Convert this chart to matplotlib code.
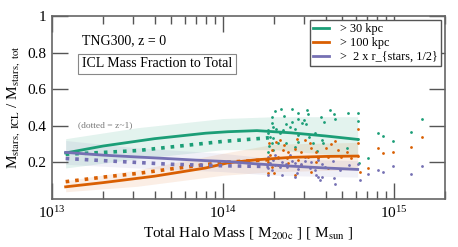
import numpy as np
import matplotlib
matplotlib.use('Agg')
import matplotlib.pyplot as plt
from matplotlib.ticker import FixedLocator

plt.rcParams['font.family'] = ['Liberation Serif', 'DejaVu Serif']
plt.rcParams['mathtext.fontset'] = 'stix'

# colours (Dark2)
cGreen, cOrange, cPurple = '#1b9e77', '#d95f02', '#7570b3'

# median lines, log10 halo mass
logM_z0 = [13.08, 13.3, 13.6, 13.9, 14.03, 14.2, 14.4, 14.6, 14.79]
green_z0 = [0.252, 0.29, 0.33, 0.36, 0.368, 0.374, 0.362, 0.345, 0.326]
orange_z0 = [0.067, 0.09, 0.125, 0.17, 0.198, 0.215, 0.228, 0.233, 0.235]
purple_z0 = [0.255, 0.24, 0.225, 0.21, 0.205, 0.192, 0.18, 0.17, 0.162]

logM_z1 = [13.08, 13.3, 13.5, 13.7, 14.0, 14.27]
green_z1 = [0.245, 0.255, 0.265, 0.285, 0.315, 0.335]
orange_z1 = [0.095, 0.12, 0.14, 0.165, 0.2, 0.215]
purple_z1 = [0.222, 0.21, 0.2, 0.19, 0.182, 0.178]

# shaded scatter around the z=0 lines
logM_band = [13.08, 13.5, 14.0, 14.3, 14.79]
green_lo = [0.17, 0.22, 0.27, 0.27, 0.23]
green_hi = [0.33, 0.39, 0.44, 0.45, 0.45]
orange_lo = [0.04, 0.07, 0.13, 0.15, 0.16]
orange_hi = [0.10, 0.16, 0.25, 0.30, 0.31]
purple_lo = [0.19, 0.17, 0.15, 0.13, 0.12]
purple_hi = [0.32, 0.28, 0.25, 0.22, 0.21]

# individual halos
green_pts_logM = [14.306, 14.339, 14.403, 14.438, 14.492, 14.500, 14.630, 14.651, 14.733,
                  14.360, 14.291, 14.477, 14.574, 14.593, 14.403, 14.438, 14.465, 14.490,
                  14.659, 14.287, 14.368, 14.297, 14.310, 14.355, 14.394, 14.423, 14.267,
                  14.263, 14.335, 14.277, 14.297, 14.442, 14.506, 14.539, 14.581, 14.287,
                  14.326, 14.368, 14.442, 14.529, 14.267, 14.297, 14.552, 14.587, 14.728,
                  14.423, 14.791, 14.791, 14.911, 14.940, 14.998, 15.101, 15.169, 14.80,
                  14.853, 14.791, 14.272, 14.262]
green_pts = [0.483, 0.490, 0.490, 0.472, 0.486, 0.464, 0.486, 0.464, 0.472,
             0.454, 0.450, 0.432, 0.446, 0.422, 0.421, 0.436, 0.414, 0.410,
             0.436, 0.414, 0.410, 0.395, 0.381, 0.377, 0.392, 0.381, 0.377,
             0.359, 0.359, 0.340, 0.332, 0.350, 0.340, 0.359, 0.322, 0.304,
             0.308, 0.308, 0.313, 0.304, 0.258, 0.268, 0.264, 0.308, 0.277,
             0.283, 0.468, 0.426, 0.359, 0.346, 0.319, 0.364, 0.436, 0.195,
             0.226, 0.328, 0.29, 0.22]

orange_pts_logM = [14.310, 14.335, 14.360, 14.272, 14.434, 14.484, 14.510, 14.635, 14.655,
                   14.291, 14.355, 14.384, 14.423, 14.461, 14.519, 14.548, 14.606, 14.674,
                   14.728, 14.277, 14.326, 14.374, 14.442, 14.500, 14.558, 14.616, 14.694,
                   14.752, 14.267, 14.326, 14.384, 14.461, 14.548, 14.263, 14.302, 14.423,
                   14.519, 14.616, 14.287, 14.791, 14.791, 14.911, 14.940, 14.998, 15.101,
                   15.169, 14.853, 14.804, 14.791]
orange_pts = [0.313, 0.322, 0.295, 0.304, 0.326, 0.322, 0.304, 0.301, 0.319,
              0.268, 0.268, 0.258, 0.272, 0.258, 0.277, 0.258, 0.277, 0.268,
              0.258, 0.240, 0.231, 0.222, 0.213, 0.231, 0.222, 0.231, 0.231,
              0.222, 0.204, 0.186, 0.195, 0.186, 0.204, 0.140, 0.144, 0.131,
              0.149, 0.168, 0.173, 0.381, 0.304, 0.280, 0.250, 0.255, 0.286,
              0.337, 0.168, 0.149, 0.235]

purple_pts_logM = [14.267, 14.297, 14.326, 14.277, 14.306, 14.345, 14.368, 14.403, 14.423,
                   14.461, 14.481, 14.519, 14.558, 14.581, 14.645, 14.267, 14.291, 14.335,
                   14.374, 14.442, 14.510, 14.539, 14.597, 14.684, 14.267, 14.345, 14.423,
                   14.548, 14.558, 14.568, 14.581, 14.651, 14.659, 14.432, 14.306, 14.394,
                   14.481, 14.742, 14.791, 14.804, 14.853, 14.911, 14.940, 14.998, 15.101,
                   15.169]
purple_pts = [0.231, 0.213, 0.222, 0.198, 0.186, 0.204, 0.191, 0.209, 0.198,
              0.191, 0.209, 0.204, 0.213, 0.191, 0.209, 0.168, 0.158, 0.177,
              0.173, 0.162, 0.168, 0.158, 0.173, 0.158, 0.131, 0.131, 0.119,
              0.131, 0.119, 0.104, 0.119, 0.113, 0.082, 0.140, 0.240, 0.240,
              0.231, 0.186, 0.191, 0.104, 0.135, 0.157, 0.149, 0.182, 0.138,
              0.179]

labels = ['> 30 kpc', '> 100 kpc', '>  2 x r_{stars, 1/2}']

fig = plt.figure(figsize=(4.58, 2.47), dpi=100)
ax = fig.add_axes([0.1135, 0.194, 0.858, 0.741])

series = [
    (cGreen, green_z0, green_z1, green_lo, green_hi, green_pts_logM, green_pts, 0.12),
    (cOrange, orange_z0, orange_z1, orange_lo, orange_hi, orange_pts_logM, orange_pts, 0.10),
    (cPurple, purple_z0, purple_z1, purple_lo, purple_hi, purple_pts_logM, purple_pts, 0.10),
]
for i, (c, z0, z1, lo, hi, px, py, a) in enumerate(series):
    mb = 10 ** np.array(logM_band)
    ax.fill_between(mb, lo, hi, color=c, alpha=a, lw=0)
    ax.plot(10 ** np.array(logM_z0), z0, '-', color=c, lw=2.0, label=labels[i], zorder=4)
    ax.plot(10 ** np.array(logM_z1), z1, ':', color=c, lw=2.6, zorder=4)
    ax.scatter(10 ** np.array(px), py, s=4, color=c, lw=0, zorder=3)

ax.set_xscale('log')
ax.set_xlim(1e13, 2e15)
ax.set_ylim(0, 1)
ax.set_yticks([0.2, 0.4, 0.6, 0.8, 1.0])
ax.set_yticklabels(['0.2', '0.4', '0.6', '0.8', '1'])
ax.yaxis.set_minor_locator(FixedLocator([]))
ax.tick_params(which='major', direction='in', length=11.5, width=1.0, color='#555555',
               top=True, right=True, labelsize=11, pad=4)
ax.tick_params(which='minor', direction='in', length=5.8, width=1.0, color='#555555',
               top=True, right=True)
for s in ax.spines.values():
    s.set_color('#666666')
    s.set_linewidth(1.2)

ax.set_xlabel(r'Total Halo Mass [ M$_{\rm 200c}$ ] [ M$_{\rm sun}$ ]', fontsize=11, labelpad=3)
ax.set_ylabel(r'M$_{\rm stars,\ ICL}$ / M$_{\rm stars,\ tot}$', fontsize=11, labelpad=4)

ax.text(0.076, 0.845, 'TNG300, z = 0', transform=ax.transAxes, fontsize=10)
ax.text(0.076, 0.72, 'ICL Mass Fraction to Total', transform=ax.transAxes, fontsize=10,
        bbox=dict(boxstyle='square,pad=0.25', fc='white', ec='#888888', lw=0.8))
ax.text(0.067, 0.395, '(dotted = z~1)', transform=ax.transAxes, fontsize=6.8, color='#777777')

leg = ax.legend(loc='upper right', fontsize=8.8, fancybox=False, framealpha=1,
                edgecolor='#555555', handlelength=1.3, handletextpad=0.9, borderpad=0.25,
                labelspacing=0.15, borderaxespad=0.35)
leg.get_frame().set_linewidth(1.0)

plt.savefig('out.png', dpi=100)
